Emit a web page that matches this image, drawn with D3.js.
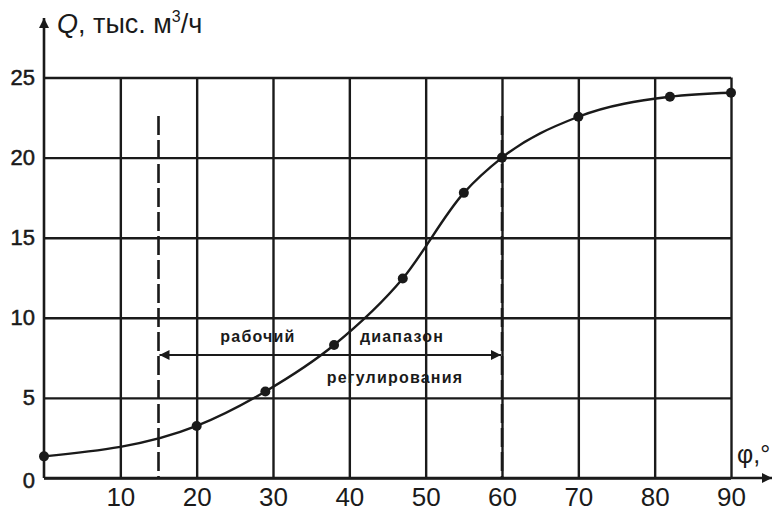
<!DOCTYPE html>
<html>
<head>
<meta charset="utf-8">
<script src="https://cdn.jsdelivr.net/npm/d3@7"></script>
<style>
  body { margin: 0; background: #fff; }
  svg { display: block; font-family: "Liberation Sans", Arial, sans-serif; }
</style>
</head>
<body>
<svg id="chart" width="774" height="514"></svg>
<script>
// data
var angles = [0, 20, 29, 38, 47, 55, 60, 70, 82, 90];
var flows  = [1.35, 3.25, 5.4, 8.3, 12.45, 17.8, 20.0, 22.55, 23.8, 24.05];
var xTicks = [10, 20, 30, 40, 50, 60, 70, 80, 90];
var yTicks = [0, 5, 10, 15, 20, 25];
var rangeLimits = [15, 60];
var rangeWords = ["рабочий", "диапазон", "регулирования"];

var svg = d3.select("#chart");
var ink = "#1a1a1a";

var x = d3.scaleLinear().domain([0, 90]).range([44, 731]);
var y = d3.scaleLinear().domain([0, 25]).range([478, 77.5]);

svg.append("defs").append("marker")
    .attr("id", "tri")
    .attr("viewBox", "0 0 10 10")
    .attr("refX", 10).attr("refY", 5)
    .attr("markerWidth", 14).attr("markerHeight", 10)
    .attr("markerUnits", "userSpaceOnUse")
    .attr("orient", "auto-start-reverse")
    .append("path")
    .attr("d", "M0,0 L10,5 L0,10 Z")
    .attr("fill", ink);

// grid via axes
var gx = svg.append("g")
    .attr("transform", "translate(0," + y(0) + ")")
    .call(d3.axisBottom(x).tickValues(xTicks)
        .tickSize(-(y(0) - y(25))).tickPadding(10));
gx.select(".domain").remove();
gx.selectAll("line").attr("stroke", ink).attr("stroke-width", 2.4);
gx.selectAll("text").attr("font-size", 26).attr("fill", ink)
    .attr("font-family", "Liberation Sans, Arial, sans-serif");

var gy = svg.append("g")
    .attr("transform", "translate(" + x(0) + ",0)")
    .call(d3.axisLeft(y).tickValues(yTicks)
        .tickSize(-(x(90) - x(0))).tickPadding(9));
gy.select(".domain").remove();
gy.selectAll("line").attr("stroke", ink).attr("stroke-width", 2.4);
gy.selectAll("text").attr("font-size", 22).attr("fill", ink)
    .attr("stroke", ink).attr("stroke-width", 0.5)
    .attr("font-family", "Liberation Sans, Arial, sans-serif");
gy.selectAll(".tick").filter(d => d === 0).select("text").attr("dy", "0.42em");

// main axes with arrows
svg.append("line")
    .attr("x1", x(0)).attr("y1", y(0)).attr("x2", x(0)).attr("y2", 18)
    .attr("stroke", ink).attr("stroke-width", 2.6).attr("marker-end", "url(#tri)");
svg.append("line")
    .attr("x1", x(0)).attr("y1", y(0)).attr("x2", 772).attr("y2", y(0))
    .attr("stroke", ink).attr("stroke-width", 2.6).attr("marker-end", "url(#tri)");

// axis titles
var qt = svg.append("text").attr("x", 57).attr("y", 33)
    .attr("font-size", 27).attr("fill", ink);
qt.append("tspan").attr("font-style", "italic").text("Q");
qt.append("tspan").text(", тыс. м");
qt.append("tspan").attr("font-size", 16).attr("dy", -11).text("3");
qt.append("tspan").attr("dy", 11).text("/ч");

svg.append("text").attr("x", 737).attr("y", 463)
    .attr("font-size", 25).attr("fill", ink).text("φ,°");

// range boundaries
svg.selectAll(".limit").data(rangeLimits).enter().append("line")
    .attr("class", "limit")
    .attr("x1", d => x(d)).attr("x2", d => x(d))
    .attr("y1", 116).attr("y2", y(0))
    .attr("stroke", ink).attr("stroke-width", 2.6)
    .attr("stroke-dasharray", "19,5");

svg.append("line")
    .attr("x1", x(rangeLimits[0]) + 1).attr("x2", x(rangeLimits[1]) - 1)
    .attr("y1", 355).attr("y2", 355)
    .attr("stroke", ink).attr("stroke-width", 2)
    .attr("marker-start", "url(#tri)").attr("marker-end", "url(#tri)");

// curve
svg.append("path")
    .datum(angles.map((a, i) => [a, flows[i]]))
    .attr("fill", "none").attr("stroke", ink).attr("stroke-width", 2.4)
    .attr("d", d3.line().x(d => x(d[0])).y(d => y(d[1])).curve(d3.curveMonotoneX));

svg.selectAll(".pt").data(angles).enter().append("circle")
    .attr("class", "pt")
    .attr("cx", d => x(d)).attr("cy", (d, i) => y(flows[i]))
    .attr("r", 5).attr("fill", ink);

// annotation words
var wordPos = [[258, 342], [402, 342], [395, 383]];
svg.selectAll(".word").data(rangeWords).enter().append("text")
    .attr("class", "word")
    .attr("x", (d, i) => wordPos[i][0]).attr("y", (d, i) => wordPos[i][1])
    .attr("text-anchor", "middle")
    .attr("font-size", 16).attr("font-weight", "bold")
    .attr("letter-spacing", 1.2)
    .attr("fill", ink)
    .text(d => d);
</script>
</body>
</html>
